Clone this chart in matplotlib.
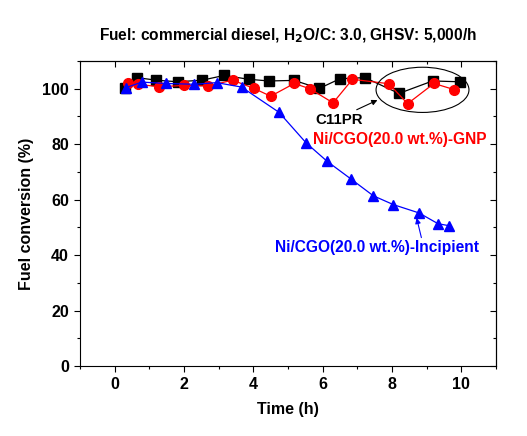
import numpy as np
import matplotlib
matplotlib.use('Agg')
import matplotlib.pyplot as plt
from matplotlib.patches import Ellipse

plt.rcParams['font.family'] = ['Liberation Sans', 'DejaVu Sans']
plt.rcParams['font.weight'] = 'bold'

# C11PR (black squares)
t_c11 = [0.30, 0.64, 1.19, 1.82, 2.53, 3.16, 3.87, 4.45, 5.18, 5.90, 6.50, 7.22, 8.20, 9.17, 9.97]
y_c11 = [100.4, 104.0, 103.1, 102.5, 103.1, 104.8, 103.4, 102.8, 103.0, 100.1, 103.6, 104.0, 98.3, 102.8, 102.5]

# Ni/CGO(20.0 wt.%)-GNP (red circles)
t_gnp = [0.39, 0.68, 1.29, 2.00, 2.70, 3.40, 4.02, 4.50, 5.18, 5.63, 6.30, 6.86, 7.91, 8.45, 9.21, 9.79]
y_gnp = [102.2, 101.6, 100.7, 101.2, 101.0, 103.1, 100.1, 97.3, 101.9, 100.0, 94.9, 103.4, 101.8, 94.6, 101.9, 99.7]

# Ni/CGO(20.0 wt.%)-Incipient (blue triangles)
t_inc = [0.33, 0.78, 1.47, 2.30, 2.94, 3.66, 4.74, 5.52, 6.13, 6.81, 7.46, 8.04, 8.78, 9.33, 9.65]
y_inc = [100.4, 102.4, 101.9, 101.6, 102.2, 100.6, 91.5, 80.5, 73.8, 67.5, 61.4, 58.2, 55.2, 51.3, 50.6]

fig = plt.figure(figsize=(5.27, 4.36), dpi=100)
ax = fig.add_axes([80 / 527, 70 / 436, 416 / 527, 305 / 436])

ax.plot(t_c11, y_c11, color='black', lw=0.9, marker='s', ms=6.5, zorder=3)
ax.plot(t_gnp, y_gnp, color='red', lw=0.9, marker='o', ms=7, zorder=4)
ax.plot(t_inc, y_inc, color='blue', lw=0.9, marker='^', ms=7.5, zorder=5)

ax.add_patch(Ellipse((8.88, 99.6), 2.68, 16.3, fill=False, edgecolor='black', lw=0.8, zorder=6))

ax.annotate('C11PR', xy=(7.58, 95.9), xytext=(5.78, 88.9), fontsize=10.8, fontweight='bold',
            color='black', va='center', ha='left',
            arrowprops=dict(arrowstyle='-|>', color='black', lw=0.8, mutation_scale=8,
                            shrinkA=0, shrinkB=0, relpos=(0.75, 1.0)))
ax.text(5.72, 81.7, 'Ni/CGO(20.0 wt.%)-GNP', fontsize=11.2, fontweight='bold', color='red',
        va='center', ha='left')
ax.annotate('Ni/CGO(20.0 wt.%)-Incipient', xy=(8.71, 53.4), xytext=(4.63, 42.6), fontsize=11.2,
            fontweight='bold', color='blue', va='center', ha='left',
            arrowprops=dict(arrowstyle='-|>', color='blue', lw=0.8, mutation_scale=8,
                            shrinkA=0, shrinkB=0, relpos=(0.72, 1.0)))

ax.set_xlim(-1, 11)
ax.set_ylim(0, 110)
ax.set_xticks([0, 2, 4, 6, 8, 10])
ax.set_xticks(np.arange(-1, 12, 1), minor=True)
ax.set_yticks([0, 20, 40, 60, 80, 100])
ax.set_yticks(np.arange(0, 111, 10), minor=True)

ax.tick_params(axis='both', which='major', direction='out', length=4.5, width=0.8, labelsize=11.5)
ax.tick_params(axis='both', which='minor', direction='out', length=2.5, width=0.8)
for lab in ax.get_xticklabels() + ax.get_yticklabels():
    lab.set_fontweight('bold')
for s in ax.spines.values():
    s.set_linewidth(0.8)

# mirrored inward ticks on top and right
axt = ax.secondary_xaxis('top')
axt.set_xticks([0, 2, 4, 6, 8, 10])
axt.set_xticks(np.arange(-1, 12, 1), minor=True)
axt.tick_params(which='major', direction='in', length=4.5, width=0.8, labeltop=False)
axt.tick_params(which='minor', direction='in', length=2.5, width=0.8)
axr = ax.secondary_yaxis('right')
axr.set_yticks([0, 20, 40, 60, 80, 100])
axr.set_yticks(np.arange(0, 111, 10), minor=True)
axr.tick_params(which='major', direction='in', length=4.5, width=0.8, labelright=False)
axr.tick_params(which='minor', direction='in', length=2.5, width=0.8)

ax.set_xlabel('Time (h)', fontsize=11.5, fontweight='bold', labelpad=7)
ax.set_ylabel('Fuel conversion (%)', fontsize=11.5, fontweight='bold', labelpad=6)

fig.text(288 / 527, 1 - 36 / 436, 'Fuel: commercial diesel, H$_\\mathbf{2}$O/C: 3.0, GHSV: 5,000/h',
         fontsize=11.2, fontweight='bold', ha='center', va='center')

fig.savefig('out.png', dpi=100)
